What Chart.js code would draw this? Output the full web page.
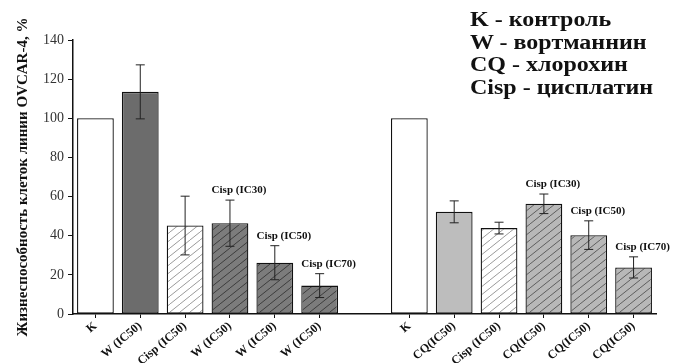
<!DOCTYPE html>
<html>
<head>
<meta charset="utf-8">
<script src="https://cdn.jsdelivr.net/npm/chart.js@4"></script>
<style>
  html, body { margin: 0; padding: 0; background: #fff; }
  .wrap { position: relative; width: 678px; height: 363px; }
  canvas { position: absolute; left: 0; top: 0; }
  .key {
    position: absolute; left: 470px; top: 8px;
    font: bold 20px "Liberation Serif", "Times New Roman", serif;
    line-height: 22.5px; color: #111; white-space: nowrap;
    transform: scaleX(1.2); transform-origin: 0 0;
  }
</style>
</head>
<body>
<div class="wrap">
  <canvas id="chart" width="678" height="363"></canvas>
  <div class="key">
    <div>K - контроль</div>
    <div>W - вортманнин</div>
    <div>CQ - хлорохин</div>
    <div>Cisp - цисплатин</div>
  </div>
</div>
<script>
// ── Data ─────────────────────────────────────────────────────────────────────
const categories = ['K', 'W (IC50)', 'Cisp (IC50)', 'W (IC50)', 'W (IC50)', 'W (IC50)', '',
                    'K', 'CQ(IC50)', 'Cisp (IC50)', 'CQ(IC50)', 'CQ(IC50)', 'CQ(IC50)'];
const viability = [100, 113.5, 45.2, 46.4, 26.2, 14.5, null, 100, 52.2, 43.9, 56.3, 40.3, 23.8];
const errors    = [0, 13.8, 15, 11.8, 8.7, 6.1, null, 0, 5.6, 3, 5, 7.3, 5.4];
const notes     = ['', '', '', 'Cisp (IC30)', 'Cisp (IC50)', 'Cisp (IC70)', '',
                   '', '', '', 'Cisp (IC30)', 'Cisp (IC50)', 'Cisp (IC70)'];
const yTicks    = [0, 20, 40, 60, 80, 100, 120, 140];

// ── Hatch patterns ───────────────────────────────────────────────────────────
function hatch(bg, line) {
  const c = document.createElement('canvas');
  c.width = 10; c.height = 8;
  const g = c.getContext('2d');
  g.fillStyle = bg;
  g.fillRect(0, 0, 10, 8);
  g.strokeStyle = line;
  g.lineWidth = 1;
  g.beginPath();
  g.moveTo(-10, 8); g.lineTo(0, 0);
  g.moveTo(0, 8);   g.lineTo(10, 0);
  g.moveTo(10, 8);  g.lineTo(20, 0);
  g.stroke();
  return g.createPattern(c, 'repeat');
}

const ctx = document.getElementById('chart').getContext('2d');
const whiteHatch = hatch('#ffffff', '#9a9a9a');
const darkHatch  = hatch('#7c7c7c', '#3c3c3c');
const greyHatch  = hatch('#b8b8b8', '#5e5e5e');
const fills = ['#ffffff', '#6c6c6c', whiteHatch, darkHatch, darkHatch, darkHatch, 'transparent',
               '#ffffff', '#bdbdbd', whiteHatch, greyHatch, greyHatch, greyHatch];

// ── Error bars + "Cisp (ICxx)" notes ─────────────────────────────────────────
const extrasPlugin = {
  id: 'extras',
  afterDatasetsDraw(chart) {
    const meta = chart.getDatasetMeta(0);
    const y = chart.scales.y;
    const c = chart.ctx;
    c.save();
    c.strokeStyle = '#222';
    c.lineWidth = 1;
    meta.data.forEach((bar, i) => {
      const v = viability[i], e = errors[i];
      if (v == null) return;
      const top = y.getPixelForValue(v + e);
      const bot = y.getPixelForValue(v - e);
      if (e > 0) {
        c.beginPath();
        c.moveTo(bar.x, top); c.lineTo(bar.x, bot);
        c.moveTo(bar.x - 4.5, top); c.lineTo(bar.x + 4.5, top);
        c.moveTo(bar.x - 4.5, bot); c.lineTo(bar.x + 4.5, bot);
        c.stroke();
      }
      if (notes[i]) {
        c.fillStyle = '#111';
        c.font = 'bold 11px "Liberation Serif", serif';
        c.textAlign = 'center';
        c.textBaseline = 'middle';
        c.fillText(notes[i], bar.x + 9, top - 10);
      }
    });
    c.restore();
  }
};

new Chart(ctx, {
  type: 'bar',
  data: {
    labels: categories,
    datasets: [{
      data: viability,
      backgroundColor: fills,
      borderColor: '#111',
      borderWidth: 1.3,
      borderSkipped: false,
      categoryPercentage: 1,
      barPercentage: 0.82
    }]
  },
  options: {
    responsive: false,
    animation: false,
    layout: { padding: { top: 40, right: 22, bottom: 0, left: 0 } },
    plugins: { legend: { display: false }, tooltip: { enabled: false } },
    scales: {
      x: {
        afterFit(s) { s.height = 49; },
        grid: {
          offset: false, drawOnChartArea: false, tickLength: 4,
          color: c => (c.index === 6 ? 'rgba(0,0,0,0)' : '#111')
        },
        border: { color: '#111', width: 1.5 },
        ticks: {
          maxRotation: 40, minRotation: 40, autoSkip: false, padding: 1,
          color: '#111',
          font: { family: '"Liberation Serif", serif', size: 12, weight: 'bold' }
        }
      },
      y: {
        min: 0, max: 140,
        afterFit(s) { s.width = 73; },
        afterBuildTicks(s) {
          const t = [];
          for (let v = 0; v <= 140; v += 10) t.push({ value: v });
          s.ticks = t;
        },
        grid: { drawOnChartArea: false, tickLength: 5, color: '#111' },
        border: { color: '#111', width: 1.5 },
        ticks: {
          padding: 4, color: '#333',
          font: { family: '"Liberation Serif", serif', size: 14 },
          callback: v => (yTicks.includes(v) ? v : '')
        },
        title: {
          display: true,
          text: 'Жизнеспособность клеток линии OVCAR-4, %',
          color: '#111',
          padding: { top: 14, bottom: 0 },
          font: { family: '"Liberation Serif", serif', size: 15, weight: 'bold' }
        }
      }
    }
  },
  plugins: [extrasPlugin]
});
</script>
</body>
</html>
